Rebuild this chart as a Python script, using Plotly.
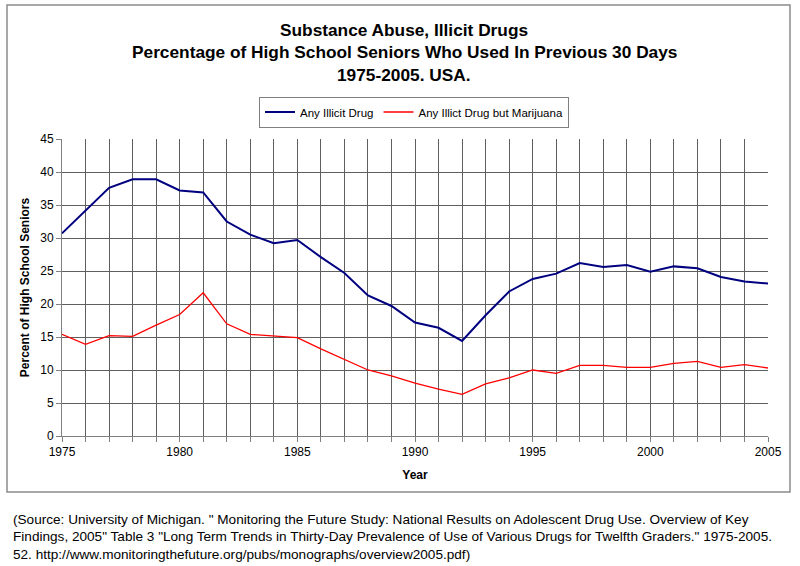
import plotly.graph_objects as go

years = list(range(1975, 2006))
any_illicit = [30.7, 34.2, 37.6, 38.9, 38.9, 37.2, 36.9, 32.5, 30.5, 29.2, 29.7,
               27.1, 24.7, 21.3, 19.7, 17.2, 16.4, 14.4, 18.3, 21.9, 23.8,
               24.6, 26.2, 25.6, 25.9, 24.9, 25.7, 25.4, 24.1, 23.4, 23.1]
not_marijuana = [15.4, 13.9, 15.2, 15.1, 16.8, 18.4, 21.7, 17.0, 15.4, 15.1, 14.9,
                 13.2, 11.6, 10.0, 9.1, 8.0, 7.1, 6.3, 7.9, 8.8, 10.0,
                 9.5, 10.7, 10.7, 10.4, 10.4, 11.0, 11.3, 10.4, 10.8, 10.3]
x_ticks = [1975, 1980, 1985, 1990, 1995, 2000, 2005]
y_ticks = [0, 5, 10, 15, 20, 25, 30, 35, 40, 45]

FONT = "Liberation Sans, Arial, sans-serif"
W, H = 800, 566
L, R, T, B = 62, 32, 139, 130
PW, PH = W - L - R, H - T - B

def px(x):
    return (x - L) / PW

def py(y):
    return (H - B - y) / PH

fig = go.Figure()
fig.add_trace(go.Scatter(x=years, y=any_illicit, mode="lines", name="Any Illicit Drug",
                         line=dict(color="#000080", width=2)))
fig.add_trace(go.Scatter(x=years, y=not_marijuana, mode="lines", name="Any Illict Drug but Marijuana",
                         line=dict(color="#FF0000", width=1.3)))

fig.update_xaxes(range=[1975, 2005], tickmode="array", tickvals=x_ticks,
                 ticktext=[str(v) for v in x_ticks],
                 showgrid=True, gridcolor="#5f5f5f", gridwidth=1, zeroline=False,
                 showline=True, linecolor="#808080", linewidth=1,
                 ticks="outside", ticklen=5, tickcolor="#808080",
                 minor=dict(dtick=1, tick0=1975, showgrid=True, gridcolor="#5f5f5f", gridwidth=1,
                            ticks="outside", ticklen=5, tickcolor="#808080"),
                 tickfont=dict(family=FONT, size=12, color="#000"),
                 title=dict(text="<b>Year</b>", font=dict(family=FONT, size=12, color="#000"), standoff=12))
fig.update_yaxes(range=[0, 45], tickmode="array", tickvals=y_ticks,
                 showgrid=True, gridcolor="#5f5f5f", gridwidth=1, zeroline=False,
                 showline=True, linecolor="#808080", linewidth=1,
                 ticks="outside", ticklen=5, tickcolor="#808080",
                 tickfont=dict(family=FONT, size=12, color="#000"),
                 title=dict(text="<b>Percent of High School Seniors</b>",
                            font=dict(family=FONT, size=12, color="#000"), standoff=8))

# outer chart border
fig.add_shape(type="rect", xref="paper", yref="paper",
              x0=px(7), x1=px(790), y0=py(492), y1=py(5),
              line=dict(color="#8c8c8c", width=1.5), fillcolor="rgba(0,0,0,0)", layer="below")

titles = [("Substance Abuse, Illicit Drugs", 30),
          ("Percentage of High School Seniors Who Used In Previous 30 Days", 52),
          ("1975-2005. USA.", 75)]
for text, yy in titles:
    fig.add_annotation(text="<b>%s</b>" % text, xref="paper", yref="paper",
                       x=px(404), y=py(yy), xanchor="center", yanchor="middle",
                       showarrow=False, font=dict(family=FONT, size=17.3, color="#000"))

source = ["(Source: University of Michigan. \" Monitoring the Future Study: National Results on Adolescent Drug Use. Overview of Key",
          "Findings, 2005\" Table 3 \"Long Term Trends in Thirty-Day Prevalence of Use of Various Drugs for Twelfth Graders.\" 1975-2005.",
          "52. http://www.monitoringthefuture.org/pubs/monographs/overview2005.pdf)"]
for i, line in enumerate(source):
    fig.add_annotation(text=line, xref="paper", yref="paper",
                       x=px(11), y=py(519 + 17.5 * i), xanchor="left", yanchor="middle",
                       showarrow=False, font=dict(family=FONT, size=13.6, color="#000"))

fig.update_layout(
    width=W, height=H,
    margin=dict(l=L, r=R, t=T, b=B),
    paper_bgcolor="white", plot_bgcolor="white",
    showlegend=True,
    legend=dict(orientation="h", x=px(414), y=py(112), xanchor="center", yanchor="middle",
                bordercolor="#808080", borderwidth=1, bgcolor="white",
                font=dict(family=FONT, size=11.5, color="#000"), itemwidth=30,
                tracegroupgap=0),
)

fig.write_html("out.html", config={"displayModeBar": False},
               post_script="document.body.style.margin='0';document.body.style.overflow='hidden';")
